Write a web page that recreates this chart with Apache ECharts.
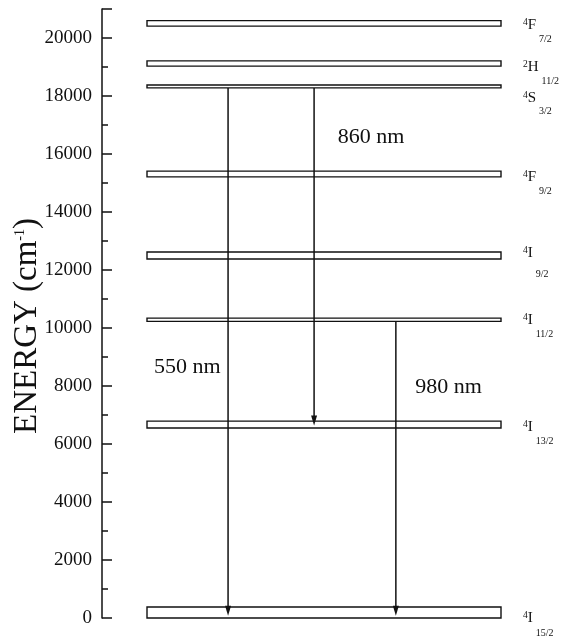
<!DOCTYPE html>
<html>
<head>
<meta charset="utf-8">
<script src="https://cdn.jsdelivr.net/npm/echarts@6/dist/echarts.min.js"></script>
<style>
  html, body { margin: 0; padding: 0; background: #fff; }
  #chart { width: 571px; height: 642px; }
</style>
</head>
<body>
<div id="chart"></div>
<script>
// energy levels (cm-1): name, lower and upper edge of each band
const levelNames = ['4I15/2', '4I13/2', '4I11/2', '4I9/2', '4F9/2', '4S3/2', '2H11/2', '4F7/2'];
const levelLow = [0, 6550, 10230, 12380, 15210, 18280, 19030, 20410];
const levelHigh = [380, 6790, 10340, 12620, 15410, 18380, 19210, 20600];

// transitions: label, start and end energy
const transitionNames = ['550 nm', '860 nm', '980 nm'];
const transitionFrom = [18280, 18280, 10230];
const transitionTo = [80, 6640, 80];

const yTickLabels = [0, 2000, 4000, 6000, 8000, 10000, 12000, 14000, 16000, 18000, 20000];

// layout only
const arrowX = [22.9, 47.2, 70.3];
const transitionLabelAt = [[11.4, 8650], [63.3, 16570], [85.2, 7960]];
const labelNudge = { '4F7/2': 2, '2H11/2': 3.5, '4S3/2': 12, '4F9/2': 3, '4I9/2': -2.5, '4I13/2': 2.5, '4I15/2': 6 };
const subNudge = { '4I9/2': 7, '4S3/2': -2 };

const serif = 'Liberation Serif, Times New Roman, serif';
const ink = '#111';

const chart = echarts.init(document.getElementById('chart'));

const levelData = levelNames.map((n, i) => [levelLow[i], levelHigh[i]]);
const arrowData = transitionNames.map((n, i) => [arrowX[i], transitionFrom[i], transitionTo[i]]);

function renderLevel(params, api) {
  const name = levelNames[params.dataIndex];
  const p0 = api.coord([0, api.value(1)]);
  const p1 = api.coord([100, api.value(0)]);
  const mid = (p0[1] + p1[1]) / 2 + (labelNudge[name] || 0);
  const subPad = 17 + (subNudge[name] || 0);
  return {
    type: 'group',
    children: [
      {
        type: 'rect',
        shape: { x: p0[0], y: p0[1], width: p1[0] - p0[0], height: p1[1] - p0[1] },
        style: { fill: '#fff', stroke: ink, lineWidth: 1.4 }
      },
      {
        type: 'text',
        x: p1[0] + 22,
        y: mid - 7.5,
        style: {
          text: '{p|' + name[0] + '}{m|' + name[1] + '}{b|' + name.slice(2) + '}',
          align: 'left',
          verticalAlign: 'top',
          rich: {
            p: { fontFamily: serif, fontSize: 9.5, lineHeight: 10, verticalAlign: 'top', fill: ink },
            m: { fontFamily: serif, fontSize: 15, lineHeight: 15, verticalAlign: 'top', fill: ink },
            b: { fontFamily: serif, fontSize: 10, lineHeight: 10, verticalAlign: 'top', padding: [subPad, 0, 0, 3], fill: ink }
          }
        }
      }
    ]
  };
}

function renderArrow(params, api) {
  const i = params.dataIndex;
  const top = api.coord([api.value(0), api.value(1)]);
  const tip = api.coord([api.value(0), api.value(2)]);
  const lab = api.coord(transitionLabelAt[i]);
  return {
    type: 'group',
    children: [
      {
        type: 'line',
        shape: { x1: top[0], y1: top[1], x2: tip[0], y2: tip[1] - 8 },
        style: { stroke: ink, lineWidth: 1.5 }
      },
      {
        type: 'polygon',
        shape: { points: [[tip[0], tip[1]], [tip[0] - 3, tip[1] - 10], [tip[0] + 3, tip[1] - 10]] },
        style: { fill: ink }
      },
      {
        type: 'text',
        x: lab[0],
        y: lab[1],
        style: {
          text: transitionNames[i],
          fontFamily: serif,
          fontSize: 22,
          fill: ink,
          align: 'center',
          verticalAlign: 'middle'
        }
      }
    ]
  };
}

chart.setOption({
  backgroundColor: '#fff',
  animation: false,
  grid: { left: 147, right: 70, top: 9, bottom: 24, containLabel: false, outerBoundsMode: 'none' },
  xAxis: { type: 'value', min: 0, max: 100, show: false },
  yAxis: [
    {
      type: 'value',
      min: 0,
      max: 21000,
      interval: 1000,
      offset: 45,
      name: '{a|ENERGY (cm}{s|-1}{a|)}',
      nameLocation: 'middle',
      nameGap: 58,
      nameMoveOverlap: false,
      nameTextStyle: {
        padding: [0, 25, 0, 0],
        rich: {
          a: { fontFamily: serif, fontSize: 33, lineHeight: 33, color: ink, verticalAlign: 'top' },
          s: { fontFamily: serif, fontSize: 14, lineHeight: 14, color: ink, verticalAlign: 'top', padding: [2, 0, 0, 0] }
        }
      },
      axisLine: { show: true, onZero: false, lineStyle: { color: ink, width: 1.5 } },
      axisTick: { inside: true, length: 6, lineStyle: { color: ink, width: 1.5 } },
      axisLabel: {
        formatter: v => (yTickLabels.indexOf(v) >= 0 ? String(v) : ''),
        fontFamily: serif,
        fontSize: 19,
        color: ink,
        margin: 10
      },
      splitLine: { show: false }
    },
    {
      type: 'value',
      min: 0,
      max: 21000,
      interval: 2000,
      offset: 45,
      position: 'left',
      axisLine: { show: false, onZero: false },
      axisTick: { inside: true, length: 10, lineStyle: { color: ink, width: 1.5 } },
      axisLabel: { show: false },
      splitLine: { show: false }
    }
  ],
  series: [
    {
      type: 'custom',
      name: 'levels',
      renderItem: renderLevel,
      dimensions: ['lo', 'hi'],
      encode: { y: ['lo', 'hi'] },
      data: levelData,
      z: 2
    },
    {
      type: 'custom',
      name: 'transitions',
      renderItem: renderArrow,
      encode: { x: 0, y: [1, 2] },
      data: arrowData,
      z: 3
    }
  ]
});
window.addEventListener('resize', () => {
  chart.resize();
});
</script>
</body>
</html>
